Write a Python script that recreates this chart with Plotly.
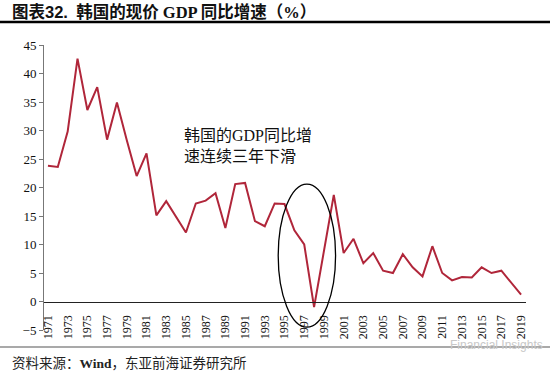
import plotly.graph_objects as go

years = list(range(1971, 2020))
growth = [23.8, 23.6, 29.8, 42.6, 33.6, 37.6, 28.4, 34.9, 28.3, 22.0,
          26.0, 15.1, 17.6, 14.8, 12.1, 17.2, 17.7, 19.0, 12.9, 20.6,
          20.8, 14.1, 13.2, 17.2, 17.1, 12.5, 10.0, -1.0, 9.0, 18.7,
          8.5, 11.0, 6.7, 8.5, 5.4, 5.0, 8.3, 6.0, 4.4, 9.7,
          5.0, 3.7, 4.3, 4.2, 6.0, 5.0, 5.4, 3.2, 1.2]
tick_years = list(range(1971, 2020, 2))
y_ticks = [-5, 0, 5, 10, 15, 20, 25, 30, 35, 40, 45]

title = "<b>图表<span style='font-family:Liberation Sans'>32.</span>  韩国的现价 GDP 同比增速（%）</b>"
note = "韩国的GDP同比增<br>速连续三年下滑"
source = "资料来源：<b>Wind</b>，东亚前海证券研究所"

CJK = "Liberation Serif, Noto Sans CJK SC"
SERIF = "Liberation Serif, Times New Roman, serif"

fig = go.Figure()
fig.add_trace(go.Scatter(x=years, y=growth, mode="lines",
                         line=dict(color="#B0263A", width=2), hoverinfo="skip"))

fig.update_layout(
    width=550, height=375,
    margin=dict(l=44, r=24, t=45, b=45),
    paper_bgcolor="white", plot_bgcolor="white",
    showlegend=False,
    xaxis=dict(range=[1970.6, 2019.5], tickvals=tick_years,
               ticktext=[str(y) for y in tick_years],
               tickangle=-90, anchor="free", position=0.1,
               showline=True, linecolor="#222", linewidth=1,
               showgrid=False, zeroline=False, ticks="",
               ticklabelstandoff=8,
               tickfont=dict(family=SERIF, size=12, color="#111")),
    yaxis=dict(range=[-5, 45], tickvals=y_ticks, showgrid=False,
               zeroline=False, showline=True, linecolor="#777", linewidth=1,
               ticks="outside", ticklen=4, tickcolor="#777",
               tickfont=dict(family=SERIF, size=13, color="#111")),
    shapes=[
        dict(type="circle", xref="x", yref="y", x0=1994.36, x1=2000.18,
             y0=-4.5, y1=20.6, line=dict(color="black", width=1.3)),
        dict(type="line", xref="paper", yref="paper", x0=-0.1, x1=1.06,
             y0=(375 - 22 - 45) / 285, y1=(375 - 22 - 45) / 285,
             line=dict(color="black", width=2.5)),
        dict(type="line", xref="paper", yref="paper", x0=-0.1, x1=1.06,
             y0=(375 - 347 - 45) / 285, y1=(375 - 347 - 45) / 285,
             line=dict(color="#555", width=1.2)),
    ],
    annotations=[
        dict(text=title, xref="paper", yref="paper",
             x=(10 - 44) / 482, y=(375 - 12 - 45) / 285, xanchor="left", yanchor="middle",
             showarrow=False, font=dict(family=CJK, size=16.5, color="#111")),
        dict(text=note, xref="paper", yref="paper",
             x=(182 - 44) / 482, y=(375 - 146 - 45) / 285, xanchor="left", yanchor="middle",
             align="left", showarrow=False,
             font=dict(family=CJK, size=16, color="#111")),
        dict(text=source, xref="paper", yref="paper",
             x=(10 - 44) / 482, y=(375 - 363 - 45) / 285, xanchor="left", yanchor="middle",
             showarrow=False, font=dict(family=CJK, size=13.5, color="#222")),
        dict(text="Financial Insights", xref="paper", yref="paper",
             x=(545 - 44) / 482, y=(375 - 345 - 45) / 285, xanchor="right", yanchor="middle",
             showarrow=False, font=dict(family="Liberation Sans", size=12, color="#c8c8c8")),
    ],
)

fig.write_html("out.html", config={"displayModeBar": False},
               post_script="document.body.style.margin='0px';document.body.style.overflow='hidden';")
